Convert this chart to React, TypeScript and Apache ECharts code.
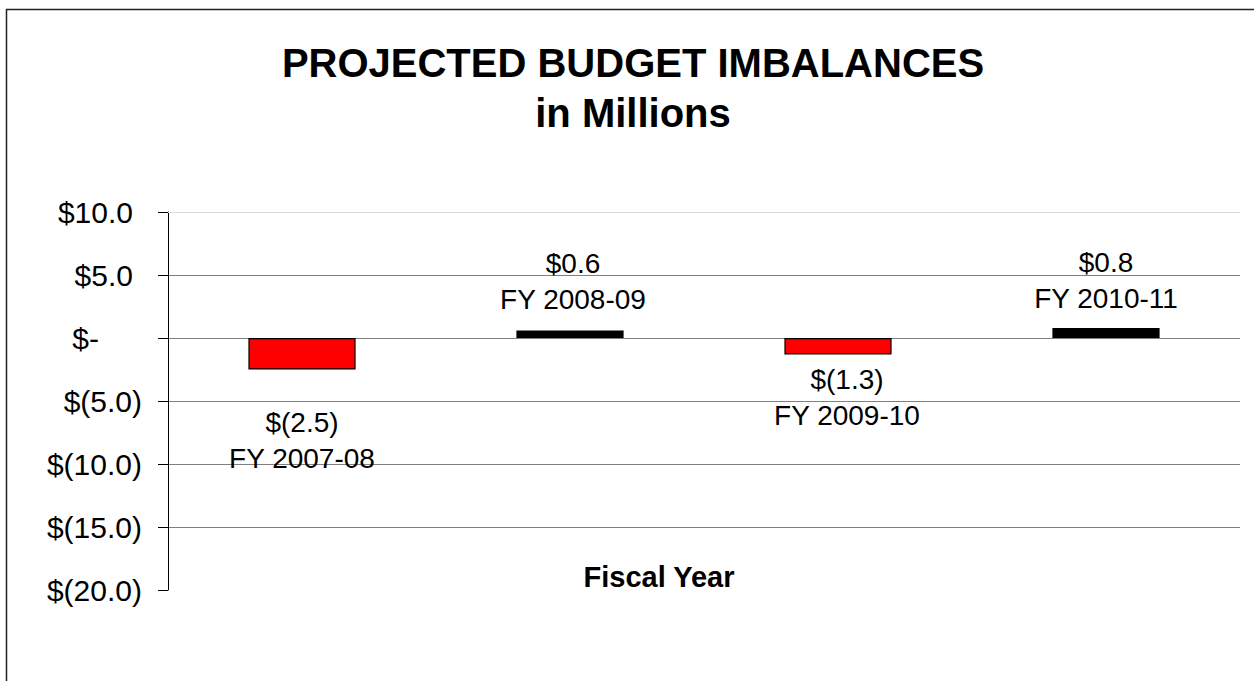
import React, { useEffect, useRef } from "react";
import * as echarts from "echarts";

const categories = ["FY 2007-08", "FY 2008-09", "FY 2009-10", "FY 2010-11"];
const imbalances = [-2.5, 0.6, -1.3, 0.8];
const yTicks = { min: -20, max: 10, interval: 5 };
const titleLines = ["PROJECTED BUDGET IMBALANCES", "in Millions"];
const xAxisTitle = "Fiscal Year";

// label styling (not data)
const labelDistance = [35, 13, 7, 11];
const labelOffsetX = [0, 3, 9, 0];

const FONT = 'Arial, "Liberation Sans", sans-serif';

function money(v: number): string {
  if (v === 0) return "$-";
  const s = Math.abs(v).toFixed(1);
  return v < 0 ? `$(${s})` : `$${s}`;
}

export default function App() {
  const ref = useRef<HTMLDivElement>(null);
  useEffect(() => {
    document.body.style.margin = "0";
    const chart = echarts.init(ref.current!, undefined, { renderer: "svg" });
    const option: any = {
      animation: false,
      backgroundColor: "#ffffff",
      grid: { left: 168, right: 14, top: 212, bottom: 91, containLabel: false },
      xAxis: {
        type: "category",
        data: categories,
        axisLine: { show: false },
        axisTick: { show: false },
        axisLabel: { show: false },
        splitLine: { show: false },
      },
      yAxis: {
        type: "value",
        min: yTicks.min,
        max: yTicks.max,
        interval: yTicks.interval,
        axisLine: { show: true, lineStyle: { color: "#000", width: 1 } },
        axisTick: { show: true, length: 10, inside: false, lineStyle: { color: "#000" } },
        splitLine: {
          show: true,
          showMinLine: false,
          showMaxLine: false,
          lineStyle: { color: "#808080", width: 1 },
        },
        axisLabel: {
          margin: 26,
          formatter: (v: number) => {
            if (v === 0) return `{v|$-}{z| }`;
            if (v > 0) return `{v|${money(v)}}{p| }`;
            return `{v|${money(v)}}`;
          },
          rich: {
            v: { fontSize: 30, fontFamily: FONT, color: "#000" },
            p: { width: 9, fontSize: 30, fontFamily: FONT },
            z: { width: 43, fontSize: 30, fontFamily: FONT },
          },
        },
      },
      series: [
        {
          type: "bar",
          barWidth: "40%",
          data: imbalances.map((v, i) => ({
            value: v,
            itemStyle: {
              color: v < 0 ? "#ff0000" : "#000000",
              borderColor: "#000",
              borderWidth: 1.2,
            },
            label: {
              show: true,
              position: v < 0 ? "bottom" : "top",
              distance: labelDistance[i],
              offset: [labelOffsetX[i], 0],
            },
          })),
          label: {
            show: true,
            formatter: (p: any) => `{v|${money(p.value)}}\n{c|${p.name}}`,
            rich: {
              v: { fontSize: 28, fontFamily: FONT, color: "#000", lineHeight: 36 },
              c: { fontSize: 28, fontFamily: FONT, color: "#000", lineHeight: 36 },
            },
          },
          markLine: {
            silent: true,
            symbol: "none",
            label: { show: false },
            lineStyle: { color: "#d9d9d9", type: "solid", width: 1 },
            data: [{ yAxis: yTicks.max }],
          },
        },
      ],
      graphic: [
        {
          type: "rect",
          shape: { x: 6.5, y: 9.5, width: 1400, height: 800 },
          style: { fill: "none", stroke: "#222", lineWidth: 1.5 },
          silent: true,
        },
        {
          type: "text",
          x: 633,
          y: 63,
          style: {
            text: titleLines[0],
            fontSize: 40,
            fontWeight: "bold",
            fontFamily: FONT,
            fill: "#000",
            textAlign: "center",
            textVerticalAlign: "middle",
          },
        },
        {
          type: "text",
          x: 633,
          y: 113,
          style: {
            text: titleLines[1],
            fontSize: 40,
            fontWeight: "bold",
            fontFamily: FONT,
            fill: "#000",
            textAlign: "center",
            textVerticalAlign: "middle",
          },
        },
        {
          type: "text",
          x: 659,
          y: 577,
          style: {
            text: xAxisTitle,
            fontSize: 29,
            fontWeight: "bold",
            fontFamily: FONT,
            fill: "#000",
            textAlign: "center",
            textVerticalAlign: "middle",
          },
        },
      ],
    };
    chart.setOption(option);
    return () => chart.dispose();
  }, []);
  return <div ref={ref} style={{ width: 1254, height: 681 }} />;
}
